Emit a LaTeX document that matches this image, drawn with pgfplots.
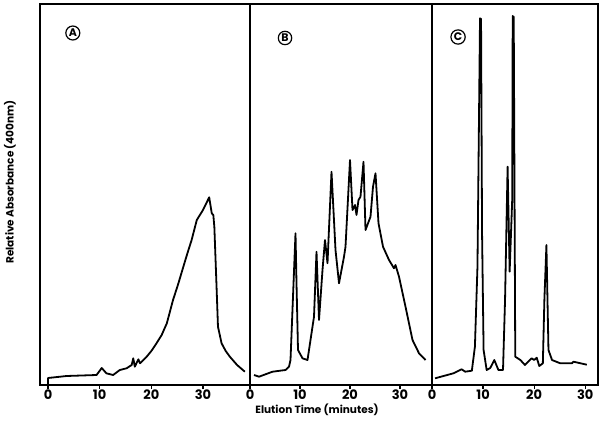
\documentclass[border=0pt]{standalone}
\usepackage{pgfplots}
\pgfplotsset{compat=1.18}
\usepackage{fontspec}
\setmainfont{Poppins}
\begin{document}
\begin{tikzpicture}
\pgfplotsset{panel/.style={scale only axis, height=381pt, ymin=0, ymax=381,
  ytick=\empty, xtick={0,10,20,30}, tick align=outside, xtick pos=bottom,
  major tick length=4pt, axis line style={line width=1.3pt},
  every tick/.style={line width=1.2pt,black},
  tick label style={font=\fontsize{13}{13}\selectfont\bfseries, inner sep=0.5pt},
  /pgf/number format/assume math mode=true, anchor=south west},
  curve/.style={black, line width=1.8pt, line join=round, no marks}}
% Panel A
\begin{axis}[panel, at={(40pt,46pt)}, width=210pt, xmin=-1.55, xmax=39.1]
\addplot[curve] coordinates {
(0,1)(0,7)(3.6,9)(9.4,10)(10.4,17)(11.3,11.7)(12.6,10)(13.9,15)(15.2,16.7)
(16.2,20)(16.5,26.7)(16.8,18.3)(17.5,25.7)(17.8,21.7)(19.1,28.3)(20.0,34)(21.0,41.7)
(22.0,50)(23.0,61.7)(24.2,85)(25.2,101)(26.2,118.3)(27.0,132)(27.8,145)(28.8,165)(30.0,175)(31.2,187.7)
(31.7,171.7)(32.0,170)(32.2,158)(32.6,101.7)(32.9,58.3)(33.6,41.7)(34.4,34)(35.2,28.3)(36.6,20)(38.1,13.3)};
\node[draw, circle, line width=1.2pt, inner sep=1pt, font=\fontsize{11}{12}\selectfont\bfseries] at (axis cs:4.8,352) {A};
\end{axis}
% Panel B
\begin{axis}[panel, at={(250pt,46pt)}, width=182pt, xmin=0, xmax=36.4]
\addplot[curve] coordinates {
(0.8,10)(1.8,8.3)(4.5,13.3)(7.1,15)(7.8,18.3)(8.1,25)(9.1,151.7)(9.3,101.7)
(9.6,35)(10.5,26.7)(11.5,25)(12.1,45)(12.8,68.3)(13.3,133.3)(13.8,65)(14.5,115)
(15.0,145)(15.5,121.7)(15.7,145)(16.3,213.3)(17.1,135)(17.8,101.7)(18.8,128.3)
(19.1,138.3)(20.0,225)(20.5,175)(21.0,180)(21.3,170)(21.7,185)(22.1,188.3)
(22.7,223.3)(23.1,155)(24.1,168.3)(24.6,198.3)(25.1,211.7)(25.7,161.7)(26.6,138.3)
(27.8,125)(28.8,116.7)(29.1,120)(29.8,108.3)(31.1,78.3)(32.5,45)(33.8,31.7)(35.1,25)};
\node[draw, circle, line width=1.2pt, inner sep=1pt, font=\fontsize{11}{12}\selectfont\bfseries] at (axis cs:7,347) {B};
\end{axis}
% Panel C
\begin{axis}[panel, at={(432pt,46pt)}, width=166pt, xmin=0, xmax=32.5]
\addplot[curve] coordinates {
(0.6,6.7)(4.2,11.7)(5.8,15.7)(6.5,13.3)(7.8,14.3)(8.4,38.3)(8.9,118.3)(9.4,366.7)
(9.6,366)(9.8,151.7)(10.1,35)(10.7,15)(11.4,17)(12.2,25)(13.0,15)(13.9,15)(14.3,85)
(14.8,218.3)(15.2,113.3)(15.7,185)(15.8,369)(16.0,368)(16.3,28.3)(17.3,25)(18.2,20)
(19.5,26.7)(20.0,25)(20.5,27.3)(21.0,19)(21.7,21.7)(22.0,85)(22.4,140)(22.8,35)
(23.5,25)(25.1,21.7)(27.4,21.7)(27.7,23.3)(30.3,20.3)};
\node[draw, circle, line width=1.2pt, inner sep=1pt, font=\fontsize{11}{12}\selectfont\bfseries] at (axis cs:5.1,348) {C};
\end{axis}
\node[rotate=90, font=\fontsize{10.5}{12}\selectfont\bfseries] at (10pt,249pt) {Relative Absorbance (400nm)};
\node[font=\fontsize{10.5}{12}\selectfont\bfseries] at (317pt,21pt) {Elution Time (minutes)};
\path (0,0) rectangle (601pt,431pt);
\end{tikzpicture}
\end{document}
